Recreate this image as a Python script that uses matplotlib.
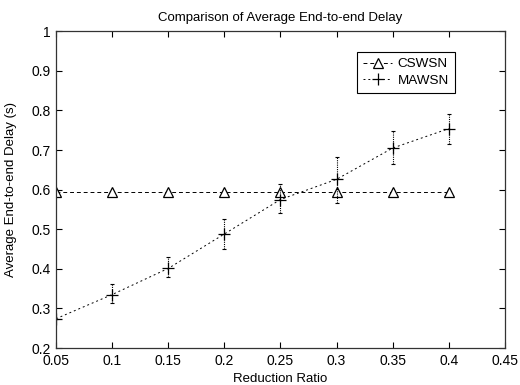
import matplotlib
matplotlib.use('Agg')
import matplotlib.pyplot as plt
import numpy as np

# values
ratio = [0.05, 0.1, 0.15, 0.2, 0.25, 0.3, 0.35, 0.4]
cswsn_delay = [0.595, 0.595, 0.595, 0.595, 0.595, 0.595, 0.595, 0.595]
mawsn_delay = [0.274, 0.335, 0.401, 0.488, 0.575, 0.626, 0.705, 0.754]
mawsn_low = [0.274, 0.313, 0.379, 0.449, 0.541, 0.566, 0.664, 0.716]
mawsn_high = [0.274, 0.361, 0.429, 0.526, 0.615, 0.682, 0.747, 0.792]

xticks = [0.05, 0.1, 0.15, 0.2, 0.25, 0.3, 0.35, 0.4, 0.45]
xticklabels = ['0.05', '0.1', '0.15', '0.2', '0.25', '0.3', '0.35', '0.4', '0.45']
yticks = [0.2, 0.3, 0.4, 0.5, 0.6, 0.7, 0.8, 0.9, 1.0]
yticklabels = ['0.2', '0.3', '0.4', '0.5', '0.6', '0.7', '0.8', '0.9', '1']

plt.rcParams['font.family'] = ['Liberation Sans', 'DejaVu Sans']

fig = plt.figure(figsize=(5.2, 3.85), dpi=100)
ax = fig.add_axes([0.1077, 0.096, 0.8633, 0.823])

ax.plot(ratio, cswsn_delay, color='black', linestyle=(0, (4, 3)), linewidth=0.7,
        marker='^', markersize=7, markerfacecolor='white', markeredgecolor='black',
        markeredgewidth=0.9, label='CSWSN')

mawsn = np.array(mawsn_delay)
yerr = [mawsn - np.array(mawsn_low), np.array(mawsn_high) - mawsn]
ax.plot(ratio, mawsn_delay, color='black', linestyle=(0, (2, 3)), linewidth=0.7,
        marker='+', markersize=9, markeredgewidth=0.9, label='MAWSN')
eb = ax.errorbar(ratio, mawsn_delay, yerr=yerr, fmt='none', ecolor='black',
                 elinewidth=0.8, capsize=1.5, capthick=0.8)
for lc in eb[2]:
    lc.set_linestyle((0, (1, 1)))

ax.set_xlim(0.05, 0.45)
ax.set_ylim(0.2, 1.0)
ax.set_xticks(xticks)
ax.set_xticklabels(xticklabels, fontsize=10)
ax.set_yticks(yticks)
ax.set_yticklabels(yticklabels, fontsize=10)
ax.tick_params(direction='in', top=True, right=True, length=4, width=0.8)
ax.tick_params(axis='x', pad=4)
ax.tick_params(axis='y', pad=4)
for sp in ax.spines.values():
    sp.set_linewidth(0.9)
    sp.set_color('#333333')

ax.set_xlabel('Reduction Ratio', fontsize=9.5, labelpad=4)
ax.set_ylabel('Average End-to-end Delay (s)', fontsize=9.5, labelpad=10)
ax.set_title('Comparison of Average End-to-end Delay', fontsize=9.5, pad=7)

leg = ax.legend(loc='upper left', bbox_to_anchor=(0.67, 0.935), borderaxespad=0,
                fancybox=False, edgecolor='black', framealpha=1, fontsize=9.7,
                handlelength=2.2, handletextpad=0.4, borderpad=0.45, labelspacing=0.3)
leg.get_frame().set_linewidth(0.8)

fig.savefig('out.png', dpi=100)
